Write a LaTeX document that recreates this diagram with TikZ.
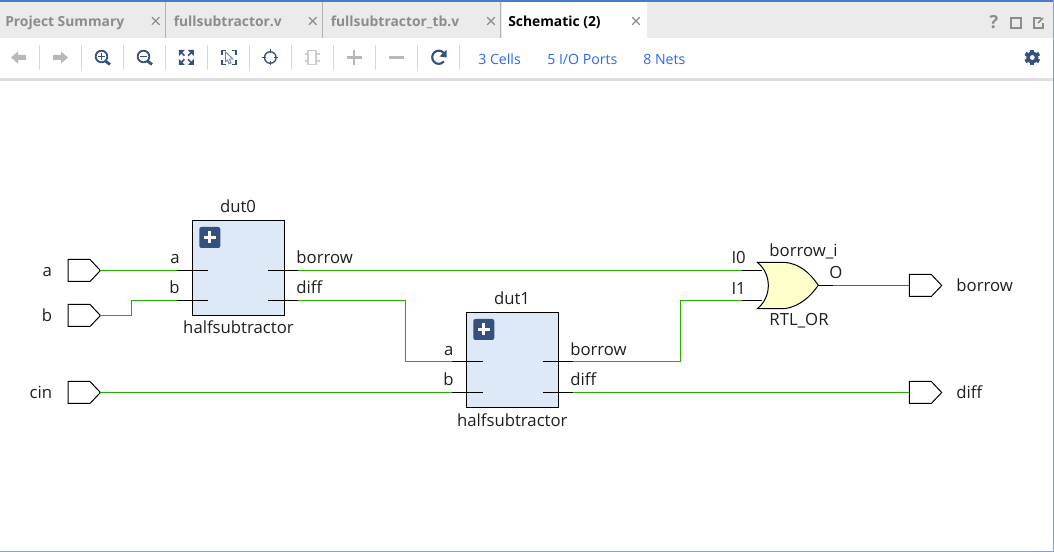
\documentclass[tikz,border=0pt]{standalone}
\usepackage{fontspec}
\setmainfont{Open Sans}
\definecolor{wire}{HTML}{1FB000}
\definecolor{modfill}{HTML}{DEE9F7}
\definecolor{navy}{HTML}{34507F}
\definecolor{orfill}{HTML}{FFFFCC}
\definecolor{tabbar}{HTML}{EBEBEB}
\definecolor{tabtxt}{HTML}{8C8C8C}
\definecolor{iconoff}{HTML}{B8B8B8}
\definecolor{linktxt}{HTML}{2A6AF0}
\definecolor{edge}{HTML}{4A7CC4}
\definecolor{sep}{HTML}{D8D8D8}
\tikzset{
  x=0.75pt,y=-0.75pt,
  txtr/.style={inner sep=0pt,anchor=base west,font=\fontsize{12.55pt}{14pt}\selectfont,text=black!88},
  txtl/.style={txtr,anchor=base east},
  txtc/.style={txtr,anchor=base},
  tabt/.style={inner sep=0pt,anchor=base west,font=\fontsize{10.4pt}{13pt}\selectfont\bfseries,text=tabtxt},
  linkt/.style={inner sep=0pt,anchor=base west,font=\fontsize{10.6pt}{13pt}\selectfont,text=linktxt},
  portshape/.style={draw=black,line width=0.75pt,fill=white},
  modbox/.style={draw=black,line width=0.9pt,fill=modfill,minimum width=69pt,minimum height=71.25pt,inner sep=0pt},
  net/.style={draw=wire,line width=0.95pt},
  thinnet/.style={draw=wire!85!black,line width=0.7pt},
  pin/.style={draw=black,line width=0.8pt},
  xmark/.style={draw=tabtxt,line width=0.85pt},
  tsep/.style={draw=sep,line width=0.75pt},
  offi/.style={draw=iconoff,line width=1.7pt},
  oni/.style={draw=navy,line width=1.35pt},
}
\newcommand{\portat}[3]{%
  \path[portshape] (#1,#2-11) -- (#1+22,#2-11) -- (#1+32.4,#2) -- (#1+22,#2+11) -- (#1,#2+11) -- cycle;
  \coordinate (#3w) at (#1,#2);
  \coordinate (#3e) at (#1+32.4,#2);}
\newcommand{\plusicon}[2]{%
  \fill[navy,rounded corners=1.6pt] (#1,#2) rectangle (#1+21,#2+21);
  \fill[white] (#1+4.5,#2+9) rectangle (#1+16.5,#2+12);
  \fill[white] (#1+9,#2+4.5) rectangle (#1+12,#2+16.5);}
\newcommand{\xm}[2]{\draw[xmark] (#1-3.8,#2-3.8) -- (#1+3.8,#2+3.8) (#1-3.8,#2+3.8) -- (#1+3.8,#2-3.8);}
\begin{document}
\begin{tikzpicture}
\useasboundingbox (0,0) rectangle (1054,552);
\fill[white] (0,0) rectangle (1054,552);
% chrome
\fill[tabbar] (0,2) rectangle (1054,38);
\fill[white] (502,2) rectangle (646.7,38);
\fill[tabbar!95!black] (0,78) rectangle (1054,81);
\fill[edge] (0,0) rectangle (1054,2);
\fill[edge!70!white] (1053,0) rectangle (1054,552);
\fill[edge!70!white] (0,551) rectangle (1054,552);
\foreach \sx in {165.5,322.5,500.5}{\draw[draw=black!30,line width=1.2pt] (\sx,2) -- (\sx,38);}
\foreach \sx in {39.5,81.7,123.5,165.5,207.5,249.5,291.5,333.5,375.5,417.5,459.5}{\draw[tsep] (\sx,45) -- (\sx,70);}
\node[tabt] (t1) at (5,26.5) {Project Summary};
\node[tabt] (t2) at (173.5,26.5) {fullsubtractor.v};
\node[tabt] (t3) at (330.5,26.5) {fullsubtractor\_tb.v};
\node[tabt,text=black] (t4) at (508,26.5) {Schematic (2)};
\xm{155.7}{21}\xm{312.7}{21}\xm{491}{21}\xm{636}{21}
\node[inner sep=0pt,anchor=base,font=\fontsize{13.5pt}{15pt}\selectfont\bfseries,text=tabtxt] (help) at (994,29) {?};
\draw[draw=tabtxt,line width=1.3pt] (1011,18) rectangle (1021,28);
\draw[draw=tabtxt,line width=1.3pt] (1041,18) -- (1034,18) -- (1034,28) -- (1043,28) -- (1043,23);
\draw[draw=tabtxt,line width=1.1pt] (1038,23) -- (1043,18);
% toolbar icons
\fill[iconoff] (11,57.5) -- (18,51.5) -- (18,55) -- (26,55) -- (26,60) -- (18,60) -- (18,63.5) -- cycle;
\fill[iconoff] (68,57.5) -- (61,51.5) -- (61,55) -- (53,55) -- (53,60) -- (61,60) -- (61,63.5) -- cycle;
\draw[oni] (101.5,56.5) circle (5.8);
\draw[oni,line width=2.1pt] (105.5,61) -- (110,64.5);
\draw[oni,line width=1.1pt] (98.3,56.5) -- (104.7,56.5) (101.5,53.3) -- (101.5,59.7);
\draw[oni] (143.5,56.5) circle (5.8);
\draw[oni,line width=2.1pt] (147.5,61) -- (152,64.5);
\draw[oni,line width=1.1pt] (140.3,56.5) -- (146.7,56.5);
\foreach \sa/\sb in {1/1,1/-1,-1/1,-1/-1}{
  \fill[navy] (186.3+\sa*7.5,57.5+\sb*7.5) -- (186.3+\sa*1.5,57.5+\sb*7.5) -- (186.3+\sa*7.5,57.5+\sb*1.5) -- cycle;
  \draw[draw=navy,line width=1.2pt] (186.3+\sa*5,57.5+\sb*5) -- (186.3+\sa*1.8,57.5+\sb*1.8);
}
\draw[oni] (222,55) -- (222,50.5) -- (226,50.5) (232,50.5) -- (236,50.5) -- (236,55) (236,60) -- (236,64.5) -- (232,64.5) (226,64.5) -- (222,64.5) -- (222,60);
\draw[draw=navy!70,fill=white,line width=0.7pt] (225.5,52) -- (233,59) -- (229.5,59) -- (231,63) -- (229,63.5) -- (227.5,60) -- (225.5,61.5) -- cycle;
\draw[draw=navy,line width=1pt] (270.3,57.5) circle (5.8);
\draw[draw=navy,line width=1pt] (270.3,49.5) -- (270.3,53.5) (270.3,61.5) -- (270.3,65.5) (262.3,57.5) -- (266.3,57.5) (274.3,57.5) -- (278.3,57.5);
\draw[draw=iconoff!70,line width=0.9pt] (308,50.5) rectangle (316,64.5);
\draw[draw=iconoff!70,line width=0.9pt] (304.5,54) -- (308,54) (304.5,61) -- (308,61) (316,54) -- (320,54) (316,61) -- (320,61);
\draw[offi] (346.5,57.5) -- (361.5,57.5) (354,50) -- (354,65);
\draw[offi] (388.5,57.5) -- (403.5,57.5);
\draw[draw=navy,line width=1.6pt] (445,55) arc[start angle=-20,end angle=-320,radius=6.6];
\fill[navy] (446.5,50) -- (446.5,57.5) -- (439.5,56.5) -- cycle;
\node[linkt] (l1) at (478,64.5) {3 Cells};
\node[linkt] (l2) at (547,64.5) {5 I/O Ports};
\node[linkt] (l3) at (643,64.5) {8 Nets};
\fill[navy] (1032.3,57.5) circle (6);
\foreach \ang in {0,60,...,300}{\fill[navy,rotate around={\ang:(1032.3,57.5)}] (1030.4,49.6) rectangle (1034.2,53);}
\fill[white] (1032.3,57.5) circle (2.4);
% modules
\node[modbox] (dut0) at (238.3,267.8) {};
\node[modbox] (dut1) at (512.3,359.8) {};
\plusicon{199.3}{227}
\plusicon{473.3}{319}
% pin coordinates
\coordinate (d0ao) at (177,270.5); \coordinate (d0ai) at (207.7,270.5);
\coordinate (d0bo) at (177,300.5); \coordinate (d0bi) at (207.7,300.5);
\coordinate (d0ci) at (268.3,270.5); \coordinate (d0co) at (298,270.5);
\coordinate (d0di) at (268.3,300.5); \coordinate (d0do) at (298,300.5);
\coordinate (d1ao) at (452,361.5); \coordinate (d1ai) at (482.7,361.5);
\coordinate (d1bo) at (452,392.5); \coordinate (d1bi) at (482.7,392.5);
\coordinate (d1ci) at (543.3,361.5); \coordinate (d1co) at (573,361.5);
\coordinate (d1di) at (543.3,392.5); \coordinate (d1do) at (573,392.5);
\coordinate (or0o) at (741.7,270.5); \coordinate (or0i) at (762,270.5);
\coordinate (or1o) at (741.7,300.5); \coordinate (or1i) at (762,300.5);
\coordinate (orout) at (818.3,285.5); \coordinate (orend) at (833,285.5);
% pins behind gate
\draw[pin] (or0o) -- (or0i) (or1o) -- (or1i) (orout) -- (orend);
% OR gate
\draw[draw=black,line width=0.75pt,fill=orfill] (757.3,262.3) -- (785,262.3) .. controls (800,264) and (810,273) .. (818.3,285.3) .. controls (810,297) and (800,306) .. (785,308.7) -- (757.3,308.7) .. controls (772,297) and (772,274) .. (757.3,262.3) -- cycle;
\draw[pin] (d0ao) -- (d0ai) (d0bo) -- (d0bi) (d0ci) -- (d0co) (d0di) -- (d0do);
\draw[pin] (d1ao) -- (d1ai) (d1bo) -- (d1bi) (d1ci) -- (d1co) (d1di) -- (d1do);
% ports
\portat{68}{270.5}{pa}
\portat{68}{315.5}{pb}
\portat{68}{392.5}{pc}
\portat{909.3}{285.5}{qb}
\portat{909.3}{392.5}{qd}
% nets
\draw[net] (pae) -- (d0ao);
\draw[net] (pbe) -- (131.5,315.5) -- (131.5,300.5) -- (d0bo);
\draw[net] (pce) -- (d1bo);
\draw[net] (d0co) -- (or0o);
\draw[net] (d0do) -- (405.5,300.5) -- (405.5,361.5) -- (d1ao);
\draw[net] (d1co) -- (680.5,361.5) -- (680.5,300.5) -- (or1o);
\draw[net] (d1do) -- (qdw);
\draw[thinnet] (orend) -- (qbw);
% labels
\node[txtl] (la) at (52.3,276.7) {a};
\node[txtl] (lb) at (52.3,321.4) {b};
\node[txtl] (lc) at (52.3,398.4) {cin};
\node[txtc] (n0) at (238,212.7) {dut0};
\node[txtc] (c0) at (238.5,333.7) {halfsubtractor};
\node[txtl] (d0a) at (180,263.4) {a};
\node[txtl] (d0b) at (180,293.4) {b};
\node[txtr] (d0c) at (296.2,263.4) {borrow};
\node[txtr] (d0d) at (296.2,293.4) {diff};
\node[txtc] (n1) at (512,304.7) {dut1};
\node[txtc] (c1) at (512.3,426.4) {halfsubtractor};
\node[txtl] (d1a) at (453.8,355.7) {a};
\node[txtl] (d1b) at (453.8,385.7) {b};
\node[txtr] (d1c) at (570,355.7) {borrow};
\node[txtr] (d1d) at (570,385.7) {diff};
\node[txtl] (i0) at (746,263.4) {I0};
\node[txtl] (i1) at (746,294.4) {I1};
\node[txtr] (oi) at (769.2,256.7) {borrow\_i};
\node[txtr] (oo) at (829,279) {O};
\node[txtr] (ot) at (769.2,325.7) {RTL\_OR};
\node[txtr] (qbl) at (956.2,291.7) {borrow};
\node[txtr] (qdl) at (956.2,398.4) {diff};
\end{tikzpicture}
\end{document}
